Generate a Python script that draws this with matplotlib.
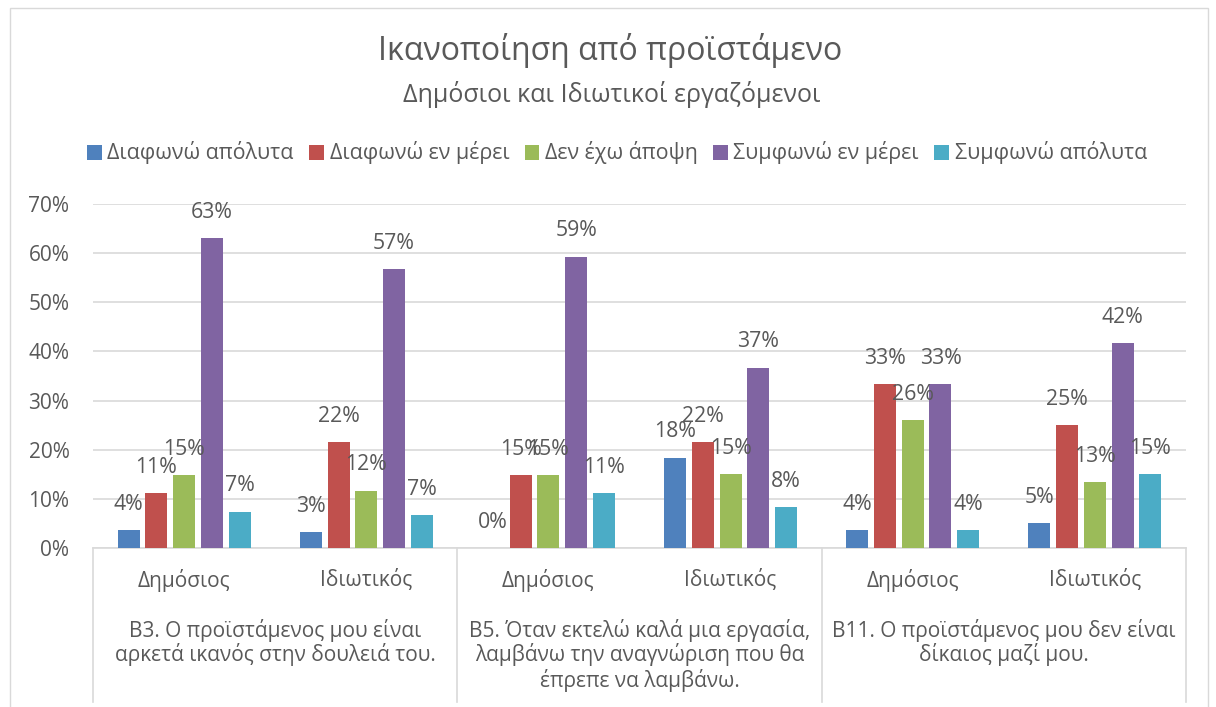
import matplotlib
matplotlib.use("Agg")
import matplotlib.pyplot as plt
from matplotlib.patches import Patch, Rectangle
from matplotlib.transforms import blended_transform_factory
from matplotlib.lines import Line2D
import numpy as np

plt.rcParams['font.family'] = ['Open Sans', 'DejaVu Sans']

title = "Ικανοποίηση από προϊστάμενο"
subtitle = "Δημόσιοι και Ιδιωτικοί εργαζόμενοι"
series_names = ["Διαφωνώ απόλυτα", "Διαφωνώ εν μέρει", "Δεν έχω άποψη",
                "Συμφωνώ εν μέρει", "Συμφωνώ απόλυτα"]
sector_labels = ["Δημόσιος", "Ιδιωτικός", "Δημόσιος", "Ιδιωτικός", "Δημόσιος", "Ιδιωτικός"]
group_labels = ["Β3. Ο προϊστάμενος μου είναι\nαρκετά ικανός στην δουλειά του.",
                "Β5. Όταν εκτελώ καλά μια εργασία,\nλαμβάνω την αναγνώριση που θα\nέπρεπε να λαμβάνω.",
                "Β11. Ο προϊστάμενος μου δεν είναι\nδίκαιος μαζί μου."]

diafono_apolyta = [0.037, 0.033, 0.000, 0.184, 0.037, 0.050]
diafono_en_merei = [0.111, 0.216, 0.148, 0.216, 0.333, 0.250]
den_exo_apopsi = [0.148, 0.117, 0.148, 0.150, 0.260, 0.134]
symfono_en_merei = [0.630, 0.567, 0.593, 0.367, 0.333, 0.417]
symfono_apolyta = [0.074, 0.067, 0.111, 0.083, 0.037, 0.150]
series_values = [diafono_apolyta, diafono_en_merei, den_exo_apopsi,
                 symfono_en_merei, symfono_apolyta]
colors = ["#4F81BD", "#C0504D", "#9BBB59", "#8064A2", "#4BACC6"]
txt = "#595959"
grid = "#D9D9D9"

W, H = 1216, 707
fig = plt.figure(figsize=(W / 100, H / 100), dpi=100)

def fx(px):
    return px / W

def fy(py):
    return 1 - py / H

# outer chart border
fig.patches.append(Rectangle((fx(10), fy(720)), fx(1208) - fx(10), fy(8) - fy(720),
                             transform=fig.transFigure, fill=False,
                             edgecolor=grid, linewidth=1.0))

ax = fig.add_axes([fx(93), fy(548), fx(1186) - fx(93), fy(204) - fy(548)])
n = len(sector_labels)
x = np.arange(n)
period = 27.7 / 182.0
bw = 22.0 / 182.0
lab_fs = 15.3
for i, (vals, c, name) in enumerate(zip(series_values, colors, series_names)):
    pos = x + (i - 2) * period
    ax.bar(pos, vals, width=bw, color=c, label=name, zorder=3)
    for px_, v in zip(pos, vals):
        ax.annotate(f"{v * 100:.0f}%", (px_, v), xytext=(0, 18.5), textcoords="offset points",
                    ha="center", va="center", fontsize=lab_fs, color=txt, zorder=4)

ax.set_xlim(-0.5, n - 0.5)
ax.set_ylim(0, 0.70)
ticks = np.arange(0, 0.71, 0.1)
ax.set_yticks(ticks)
ax.set_yticklabels([f"{int(round(t * 100))}%" for t in ticks])
ax.tick_params(axis='y', length=0, labelsize=15, labelcolor=txt, pad=17)
ax.set_xticks([])
ax.yaxis.grid(True, color=grid, linewidth=1.2, zorder=0)
for s in ['top', 'right', 'left']:
    ax.spines[s].set_visible(False)
ax.spines['bottom'].set_color(grid)
ax.spines['bottom'].set_linewidth(1.2)

trans = blended_transform_factory(ax.transData, fig.transFigure)
for i, lab in enumerate(sector_labels):
    ax.text(i, fy(580), lab, transform=trans, ha="center", va="center",
            fontsize=15, color=txt)
for g, lab in enumerate(group_labels):
    for k, line in enumerate(lab.split("\n")):
        ax.text(2 * g + 0.5, fy(630 + 25 * k), line, transform=trans, ha="center",
                va="center", fontsize=15, color=txt)
for b in [-0.5, 1.5, 3.5, 5.5]:
    ax.add_line(Line2D([b, b], [fy(548), fy(702)], transform=trans, color=grid,
                       linewidth=1.2, clip_on=False))

fig.text(fx(610), fy(51), title, ha="center", va="center", fontsize=23, color=txt)
fig.text(fx(612), fy(95), subtitle, ha="center", va="center", fontsize=18, color=txt)

handles = [Patch(facecolor=c, edgecolor='none') for c in colors]
fig.legend(handles, series_names, loc="center", bbox_to_anchor=(fx(617), fy(153)),
           ncol=5, frameon=False, fontsize=15.4, labelcolor=txt,
           handlelength=0.7, handleheight=0.7, handletextpad=0.25, columnspacing=0.72)

fig.savefig("out.png", dpi=100)
